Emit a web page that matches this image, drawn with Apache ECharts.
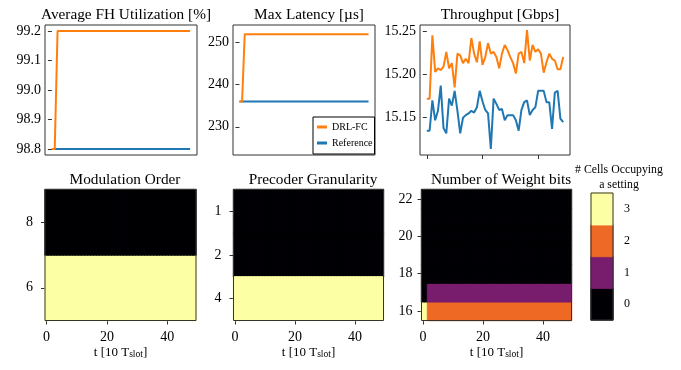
<!DOCTYPE html>
<html>
<head>
<meta charset="utf-8">
<script src="https://cdn.jsdelivr.net/npm/echarts@6/dist/echarts.min.js"></script>
<style>
  html, body { margin: 0; padding: 0; background: #fff; }
  #chart { width: 681px; height: 370px; }
</style>
</head>
<body>
<div id="chart"></div>
<script>
// ---- data ----
var fhDrl = [98.8, 98.8, 99.2, 99.2, 99.2, 99.2, 99.2, 99.2, 99.2, 99.2,
	99.2, 99.2, 99.2, 99.2, 99.2, 99.2, 99.2, 99.2, 99.2, 99.2,
	99.2, 99.2, 99.2, 99.2, 99.2, 99.2, 99.2, 99.2, 99.2, 99.2,
	99.2, 99.2, 99.2, 99.2, 99.2, 99.2, 99.2, 99.2, 99.2, 99.2,
	99.2, 99.2, 99.2, 99.2, 99.2, 99.2, 99.2, 99.2, 99.2, 99.2];
var fhRef = [98.8, 98.8, 98.8, 98.8, 98.8, 98.8, 98.8, 98.8, 98.8, 98.8,
	98.8, 98.8, 98.8, 98.8, 98.8, 98.8, 98.8, 98.8, 98.8, 98.8,
	98.8, 98.8, 98.8, 98.8, 98.8, 98.8, 98.8, 98.8, 98.8, 98.8,
	98.8, 98.8, 98.8, 98.8, 98.8, 98.8, 98.8, 98.8, 98.8, 98.8,
	98.8, 98.8, 98.8, 98.8, 98.8, 98.8, 98.8, 98.8, 98.8, 98.8];
var latDrl = [236, 236, 252, 252, 252, 252, 252, 252, 252, 252,
	252, 252, 252, 252, 252, 252, 252, 252, 252, 252,
	252, 252, 252, 252, 252, 252, 252, 252, 252, 252,
	252, 252, 252, 252, 252, 252, 252, 252, 252, 252,
	252, 252, 252, 252, 252, 252, 252, 252, 252, 252];
var latRef = [236, 236, 236, 236, 236, 236, 236, 236, 236, 236,
	236, 236, 236, 236, 236, 236, 236, 236, 236, 236,
	236, 236, 236, 236, 236, 236, 236, 236, 236, 236,
	236, 236, 236, 236, 236, 236, 236, 236, 236, 236,
	236, 236, 236, 236, 236, 236, 236, 236, 236, 236];
var tpDrl = [15.172, 15.172, 15.245, 15.203, 15.207, 15.205, 15.209, 15.226, 15.207, 15.213,
	15.185, 15.224, 15.222, 15.213, 15.218, 15.213, 15.242, 15.224, 15.214, 15.238,
	15.211, 15.220, 15.236, 15.224, 15.226, 15.220, 15.207, 15.224, 15.234, 15.228,
	15.220, 15.213, 15.201, 15.224, 15.226, 15.213, 15.251, 15.216, 15.234, 15.226,
	15.229, 15.224, 15.202, 15.214, 15.224, 15.218, 15.216, 15.206, 15.206, 15.220];
var tpRef = [15.135, 15.135, 15.170, 15.147, 15.158, 15.187, 15.138, 15.132, 15.172, 15.164,
	15.181, 15.158, 15.132, 15.150, 15.153, 15.155, 15.158, 15.156, 15.162, 15.181,
	15.169, 15.159, 15.155, 15.114, 15.172, 15.166, 15.159, 15.160, 15.147, 15.153,
	15.153, 15.153, 15.147, 15.135, 15.159, 15.168, 15.170, 15.153, 15.159, 15.162,
	15.181, 15.181, 15.181, 15.168, 15.168, 15.137, 15.179, 15.181, 15.149, 15.145];

// settings on the heatmap y axes
var modOrders = ['6', '8'];
var precoderGran = ['1', '2', '4'];
var weightBits = ['16', '17', '18', '19', '20', '21', '22'];

// number of cells occupying each setting, per time step
var mod6 = [3, 3, 3, 3, 3, 3, 3, 3, 3, 3, 3, 3, 3, 3, 3, 3, 3, 3, 3, 3, 3, 3, 3, 3, 3, 3, 3, 3, 3, 3, 3, 3, 3, 3, 3, 3, 3, 3, 3, 3, 3, 3, 3, 3, 3, 3, 3, 3, 3, 3];
var mod8 = [0, 0, 0, 0, 0, 0, 0, 0, 0, 0, 0, 0, 0, 0, 0, 0, 0, 0, 0, 0, 0, 0, 0, 0, 0, 0, 0, 0, 0, 0, 0, 0, 0, 0, 0, 0, 0, 0, 0, 0, 0, 0, 0, 0, 0, 0, 0, 0, 0, 0];
var prec1 = [0, 0, 0, 0, 0, 0, 0, 0, 0, 0, 0, 0, 0, 0, 0, 0, 0, 0, 0, 0, 0, 0, 0, 0, 0, 0, 0, 0, 0, 0, 0, 0, 0, 0, 0, 0, 0, 0, 0, 0, 0, 0, 0, 0, 0, 0, 0, 0, 0, 0];
var prec2 = [0, 0, 0, 0, 0, 0, 0, 0, 0, 0, 0, 0, 0, 0, 0, 0, 0, 0, 0, 0, 0, 0, 0, 0, 0, 0, 0, 0, 0, 0, 0, 0, 0, 0, 0, 0, 0, 0, 0, 0, 0, 0, 0, 0, 0, 0, 0, 0, 0, 0];
var prec4 = [3, 3, 3, 3, 3, 3, 3, 3, 3, 3, 3, 3, 3, 3, 3, 3, 3, 3, 3, 3, 3, 3, 3, 3, 3, 3, 3, 3, 3, 3, 3, 3, 3, 3, 3, 3, 3, 3, 3, 3, 3, 3, 3, 3, 3, 3, 3, 3, 3, 3];
var wb16 = [3, 3, 2, 2, 2, 2, 2, 2, 2, 2, 2, 2, 2, 2, 2, 2, 2, 2, 2, 2, 2, 2, 2, 2, 2, 2, 2, 2, 2, 2, 2, 2, 2, 2, 2, 2, 2, 2, 2, 2, 2, 2, 2, 2, 2, 2, 2, 2, 2, 2];
var wb17 = [0, 0, 1, 1, 1, 1, 1, 1, 1, 1, 1, 1, 1, 1, 1, 1, 1, 1, 1, 1, 1, 1, 1, 1, 1, 1, 1, 1, 1, 1, 1, 1, 1, 1, 1, 1, 1, 1, 1, 1, 1, 1, 1, 1, 1, 1, 1, 1, 1, 1];
var wb18 = [0, 0, 0, 0, 0, 0, 0, 0, 0, 0, 0, 0, 0, 0, 0, 0, 0, 0, 0, 0, 0, 0, 0, 0, 0, 0, 0, 0, 0, 0, 0, 0, 0, 0, 0, 0, 0, 0, 0, 0, 0, 0, 0, 0, 0, 0, 0, 0, 0, 0];
var wb19 = [0, 0, 0, 0, 0, 0, 0, 0, 0, 0, 0, 0, 0, 0, 0, 0, 0, 0, 0, 0, 0, 0, 0, 0, 0, 0, 0, 0, 0, 0, 0, 0, 0, 0, 0, 0, 0, 0, 0, 0, 0, 0, 0, 0, 0, 0, 0, 0, 0, 0];
var wb20 = [0, 0, 0, 0, 0, 0, 0, 0, 0, 0, 0, 0, 0, 0, 0, 0, 0, 0, 0, 0, 0, 0, 0, 0, 0, 0, 0, 0, 0, 0, 0, 0, 0, 0, 0, 0, 0, 0, 0, 0, 0, 0, 0, 0, 0, 0, 0, 0, 0, 0];
var wb21 = [0, 0, 0, 0, 0, 0, 0, 0, 0, 0, 0, 0, 0, 0, 0, 0, 0, 0, 0, 0, 0, 0, 0, 0, 0, 0, 0, 0, 0, 0, 0, 0, 0, 0, 0, 0, 0, 0, 0, 0, 0, 0, 0, 0, 0, 0, 0, 0, 0, 0];
var wb22 = [0, 0, 0, 0, 0, 0, 0, 0, 0, 0, 0, 0, 0, 0, 0, 0, 0, 0, 0, 0, 0, 0, 0, 0, 0, 0, 0, 0, 0, 0, 0, 0, 0, 0, 0, 0, 0, 0, 0, 0, 0, 0, 0, 0, 0, 0, 0, 0, 0, 0];

// tick labels
var fhTicks = [98.8, 98.9, 99.0, 99.1, 99.2];
var latTicks = [230, 240, 250];
var tpTicks = [15.15, 15.20, 15.25];
var timeTicks = [0, 20, 40];
var levels = ['0', '1', '2', '3'];
var levelColors = ['#000004', '#781c6d', '#ed6925', '#fcffa4'];

// ---- helpers ----
var FONT = 'Liberation Serif';
var timeSteps = fhDrl.map(function(v, i) { return String(i); });

function toXY(arr) {
	return arr.map(function(v, i) { return [i, v]; });
}
// heatmap cells; a border in the cell's own colour hides the anti-aliasing seams
function cell(t, r, v) {
	return { value: [t, r, v], itemStyle: { borderColor: levelColors[v], borderWidth: 0.8 } };
}
function toCells(rows) {
	var out = [];
	rows.forEach(function(row, r) {
		row.forEach(function(v, t) { out.push(cell(t, r, v)); });
	});
	return out;
}

var gridStyle = { show: true, z: 3, backgroundColor: 'transparent', borderColor: '#333', borderWidth: 1 };
function grid(l, t, w, h) {
	return Object.assign({ left: l, top: t, width: w, height: h }, gridStyle);
}

var tickStyle = { show: true, length: 4, lineStyle: { color: '#333', width: 1 } };
var labelFont = { color: '#000', fontFamily: FONT, fontSize: 14 };
function isTimeTick(i) { return timeTicks.indexOf(i) >= 0; }

function lineX(idx, showTicks) {
	return {
		type: 'value', gridIndex: idx, min: -2.45, max: 51.45,
		axisLine: { show: false }, splitLine: { show: false },
		axisTick: showTicks ? Object.assign({ customValues: timeTicks }, tickStyle) : { show: false },
		axisLabel: { show: false }
	};
}
function lineY(idx, min, max, ticks, digits) {
	return {
		type: 'value', gridIndex: idx, min: min, max: max,
		axisLine: { show: false }, splitLine: { show: false },
		axisTick: Object.assign({ customValues: ticks }, tickStyle),
		axisLabel: Object.assign({
			customValues: ticks, margin: 4,
			formatter: function(v) { return v.toFixed(digits); }
		}, labelFont)
	};
}
function heatX(idx) {
	return {
		type: 'category', gridIndex: idx, data: timeSteps,
		axisLine: { show: false }, splitLine: { show: false },
		axisTick: Object.assign({ alignWithLabel: true, interval: isTimeTick }, tickStyle),
		axisLabel: Object.assign({ margin: 10, interval: isTimeTick }, labelFont),
		name: '{a|t [10 T}{b|slot}{a|]}',
		nameLocation: 'middle', nameGap: 26,
		nameTextStyle: {
			rich: {
				a: { fontFamily: FONT, fontSize: 13, color: '#000', verticalAlign: 'bottom' },
				b: { fontFamily: FONT, fontSize: 9.5, color: '#000', verticalAlign: 'bottom' }
			}
		}
	};
}
function heatY(idx, cats, everyOther, inverse, margin) {
	var iv = everyOther ? function(i) { return i % 2 === 0; } : 0;
	return {
		type: 'category', gridIndex: idx, data: cats, inverse: !!inverse,
		axisLine: { show: false }, splitLine: { show: false },
		axisTick: Object.assign({ alignWithLabel: true, interval: iv }, tickStyle),
		axisLabel: Object.assign({ margin: margin, interval: iv }, labelFont)
	};
}
function lineSeries(name, color, idx, arr) {
	return {
		type: 'line', name: name, xAxisIndex: idx, yAxisIndex: idx,
		data: toXY(arr), showSymbol: false, symbol: 'none',
		lineStyle: { color: color, width: 2 }, itemStyle: { color: color }
	};
}
function heatSeries(idx, data) {
	return { type: 'heatmap', xAxisIndex: idx, yAxisIndex: idx, data: data };
}

var blue = '#1f77b4', orange = '#ff7f0e';
var titleFont = { fontFamily: FONT, fontSize: 15.3, fontWeight: 'normal', color: '#000' };
function title(text, x, y) {
	return { text: text, left: x, top: y, textAlign: 'center', textStyle: titleFont };
}

var option = {
	animation: false,
	backgroundColor: '#fff',
	title: [
		title('Average FH Utilization [%]', 121, 2),
		title('Max Latency [\u00b5s]', 304, 2),
		title('Throughput [Gbps]', 495, 2),
		title('Modulation Order', 120, 167),
		title('Precoder Granularity', 308, 167),
		title('Number of Weight bits', 496, 167),
		{ text: '# Cells Occupying\na setting', left: 614, top: 157, textAlign: 'center',
			textStyle: { fontFamily: FONT, fontSize: 11.8, fontWeight: 'normal', color: '#000', lineHeight: 15 } }
	],
	legend: {
		data: ['DRL-FC', 'Reference'],
		orient: 'vertical', left: 313, top: 117,
		backgroundColor: '#fff', borderColor: '#000', borderWidth: 1, borderRadius: 0,
		padding: [5, 2, 6, 4], itemGap: 6, itemWidth: 10, itemHeight: 3, icon: 'rect',
		textStyle: { fontFamily: FONT, fontSize: 10, color: '#000' }
	},
	grid: [
		grid(45, 25, 152, 130),
		grid(233, 25, 142, 130),
		grid(420, 25, 150, 130),
		grid(45, 189.5, 151, 131),
		grid(233.5, 189.5, 150, 131),
		grid(421.5, 189.5, 150, 131),
		grid(591, 193, 22, 127)
	],
	xAxis: [
		lineX(0, false), lineX(1, false), lineX(2, true),
		heatX(3), heatX(4), heatX(5),
		{ type: 'category', gridIndex: 6, data: [''], show: false }
	],
	yAxis: [
		lineY(0, 98.78, 99.22, fhTicks, 1),
		lineY(1, 223.3, 254.2, latTicks, 0),
		lineY(2, 15.107, 15.257, tpTicks, 2),
		heatY(3, modOrders, false, false, 12),
		heatY(4, precoderGran, false, true, 12),
		heatY(5, weightBits, true, false, 9),
		{ type: 'category', gridIndex: 6, data: levels, position: 'right',
			axisLine: { show: false }, axisTick: { show: false }, splitLine: { show: false },
			axisLabel: { margin: 11, fontFamily: FONT, fontSize: 12, color: '#000' } }
	],
	visualMap: {
		type: 'piecewise', show: false, dimension: 2,
		seriesIndex: [6, 7, 8, 9],
		pieces: levels.map(function(l, i) { return { value: i, color: levelColors[i] }; })
	},
	series: [
		lineSeries('Reference', blue, 0, fhRef),
		lineSeries('DRL-FC', orange, 0, fhDrl),
		lineSeries('Reference', blue, 1, latRef),
		lineSeries('DRL-FC', orange, 1, latDrl),
		lineSeries('Reference', blue, 2, tpRef),
		lineSeries('DRL-FC', orange, 2, tpDrl),
		heatSeries(3, toCells([mod6, mod8])),
		heatSeries(4, toCells([prec1, prec2, prec4])),
		heatSeries(5, toCells([wb16, wb17, wb18, wb19, wb20, wb21, wb22])),
		// colorbar: one cell per level
		heatSeries(6, levels.map(function(l, i) { return cell(0, i, i); }))
	]
};

var myChart = echarts.init(document.getElementById('chart'));
myChart.setOption(option);
</script>
</body>
</html>
